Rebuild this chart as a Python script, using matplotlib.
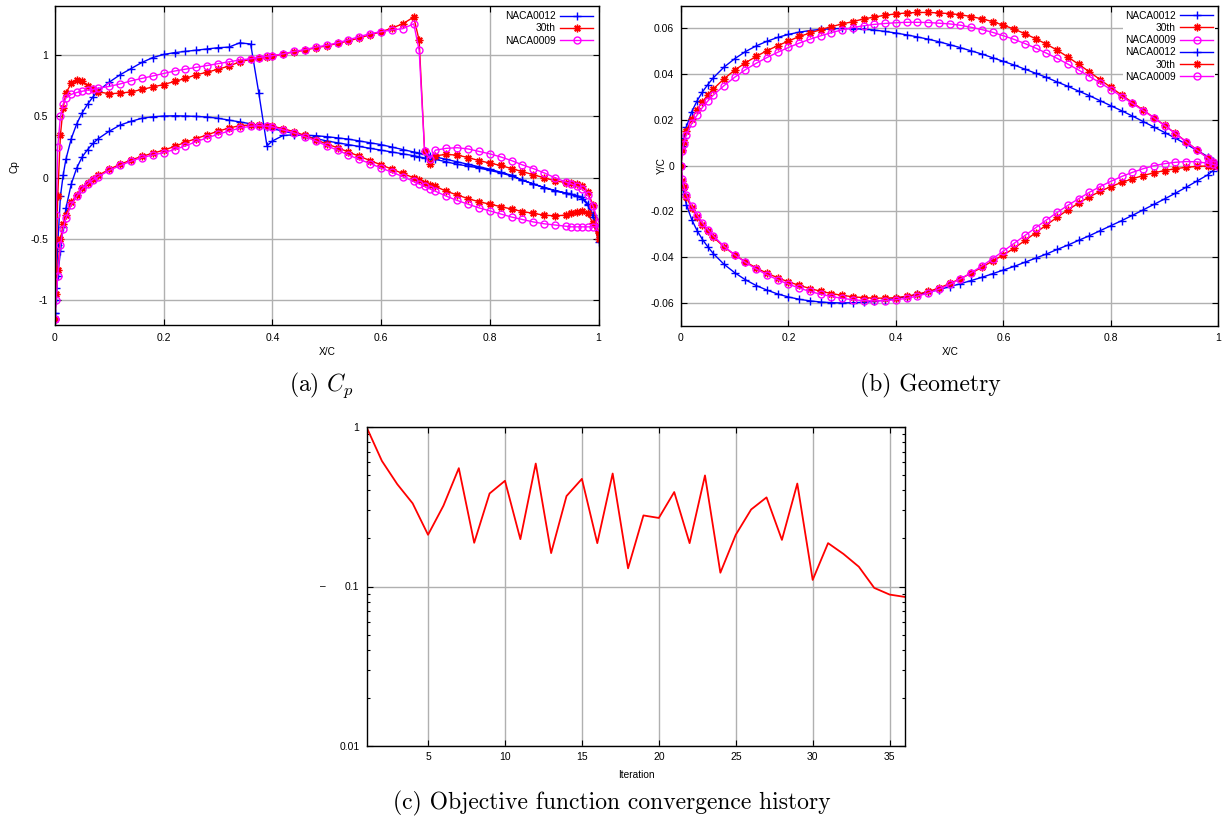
import matplotlib
matplotlib.use('Agg')
import matplotlib.pyplot as plt
import numpy as np
from matplotlib.ticker import FixedLocator, NullFormatter

plt.rcParams['font.family'] = ['Liberation Sans', 'DejaVu Sans']
plt.rcParams['axes.unicode_minus'] = False
plt.rcParams['mathtext.fontset'] = 'cm'

# ---------------- (a) Cp distributions ----------------
CP_X = [0, 0.002, 0.005, 0.01, 0.015, 0.02, 0.03, 0.04,
        0.05, 0.06, 0.07, 0.08, 0.1, 0.12, 0.14, 0.16,
        0.18, 0.2, 0.22, 0.24, 0.26, 0.28, 0.3, 0.32,
        0.34, 0.36, 0.375, 0.39, 0.4, 0.42, 0.44, 0.46,
        0.48, 0.5, 0.52, 0.54, 0.56, 0.58, 0.6, 0.62,
        0.64, 0.66, 0.67, 0.68, 0.69, 0.7, 0.72, 0.74,
        0.76, 0.78, 0.8, 0.82, 0.84, 0.86, 0.88, 0.9,
        0.92, 0.94, 0.95, 0.96, 0.97, 0.98, 0.99, 1.0]

CP_NACA0012_UPPER = [-1.1, -0.9, -0.55, -0.15, 0.02, 0.15, 0.32, 0.44,
                     0.53, 0.60, 0.66, 0.71, 0.78, 0.84, 0.89, 0.94,
                     0.98, 1.005, 1.02, 1.03, 1.04, 1.05, 1.06, 1.065,
                     1.10, 1.09, 0.69, 0.26, 0.30, 0.345, 0.35, 0.348,
                     0.343, 0.335, 0.325, 0.315, 0.30, 0.285, 0.27, 0.25,
                     0.23, 0.21, 0.20, 0.19, 0.18, 0.17, 0.15, 0.13,
                     0.11, 0.09, 0.07, 0.045, 0.02, -0.02, -0.05, -0.08,
                     -0.105, -0.125, -0.135, -0.145, -0.16, -0.21, -0.3, -0.5]
CP_NACA0012_LOWER = [-1.1, -1.0, -0.8, -0.6, -0.4, -0.25, -0.05, 0.08,
                     0.17, 0.23, 0.28, 0.32, 0.38, 0.43, 0.46, 0.485,
                     0.497, 0.503, 0.505, 0.503, 0.50, 0.495, 0.485, 0.47,
                     0.455, 0.44, 0.425, 0.41, 0.40, 0.38, 0.36, 0.34,
                     0.32, 0.30, 0.285, 0.27, 0.255, 0.24, 0.225, 0.21,
                     0.195, 0.18, 0.17, 0.16, 0.155, 0.15, 0.13, 0.11,
                     0.095, 0.08, 0.06, 0.04, 0.015, -0.02, -0.05, -0.08,
                     -0.105, -0.125, -0.135, -0.15, -0.17, -0.22, -0.32, -0.52]
CP_30TH_UPPER = [-1.15, -0.75, -0.15, 0.35, 0.57, 0.69, 0.77, 0.80,
                 0.79, 0.75, 0.72, 0.70, 0.685, 0.69, 0.70, 0.72,
                 0.74, 0.76, 0.785, 0.81, 0.84, 0.86, 0.885, 0.91,
                 0.945, 0.965, 0.975, 0.985, 0.99, 1.01, 1.025, 1.04,
                 1.06, 1.075, 1.095, 1.115, 1.14, 1.165, 1.19, 1.22,
                 1.255, 1.31, 1.12, 0.22, 0.115, 0.18, 0.19, 0.185,
                 0.165, 0.14, 0.12, 0.1, 0.075, 0.05, 0.025, 0.0,
                 -0.025, -0.04, -0.045, -0.05, -0.07, -0.12, -0.22, -0.45]
CP_30TH_LOWER = [-1.15, -0.95, -0.75, -0.5, -0.38, -0.3, -0.2, -0.14,
                 -0.08, -0.04, -0.01, 0.02, 0.07, 0.11, 0.145, 0.175,
                 0.2, 0.225, 0.255, 0.29, 0.32, 0.35, 0.38, 0.405,
                 0.425, 0.43, 0.43, 0.425, 0.42, 0.40, 0.375, 0.345,
                 0.31, 0.275, 0.245, 0.21, 0.175, 0.14, 0.105, 0.07,
                 0.035, 0.0, -0.02, -0.04, -0.055, -0.07, -0.11, -0.14,
                 -0.17, -0.195, -0.215, -0.235, -0.255, -0.275, -0.29, -0.305,
                 -0.31, -0.305, -0.29, -0.28, -0.27, -0.29, -0.37, -0.5]
CP_NACA0009_UPPER = [-1.15, -0.3, 0.25, 0.5, 0.6, 0.65, 0.68, 0.695,
                     0.705, 0.715, 0.72, 0.73, 0.745, 0.765, 0.79, 0.81,
                     0.83, 0.85, 0.87, 0.885, 0.9, 0.915, 0.93, 0.945,
                     0.96, 0.97, 0.98, 0.99, 0.995, 1.01, 1.03, 1.045,
                     1.065, 1.08, 1.1, 1.125, 1.15, 1.175, 1.19, 1.205,
                     1.215, 1.255, 1.04, 0.22, 0.155, 0.225, 0.24, 0.245,
                     0.235, 0.215, 0.195, 0.17, 0.14, 0.105, 0.075, 0.04,
                     0.0, -0.035, -0.05, -0.07, -0.09, -0.14, -0.23, -0.36]
CP_NACA0009_LOWER = [-1.15, -1.0, -0.8, -0.55, -0.42, -0.33, -0.22, -0.15,
                     -0.09, -0.05, -0.015, 0.01, 0.06, 0.1, 0.135, 0.165,
                     0.185, 0.205, 0.23, 0.26, 0.295, 0.325, 0.355, 0.38,
                     0.405, 0.42, 0.425, 0.42, 0.415, 0.39, 0.365, 0.335,
                     0.3, 0.26, 0.225, 0.185, 0.15, 0.115, 0.08, 0.045,
                     0.01, -0.03, -0.05, -0.07, -0.09, -0.11, -0.15, -0.185,
                     -0.215, -0.245, -0.27, -0.295, -0.32, -0.34, -0.36, -0.375,
                     -0.385, -0.395, -0.4, -0.4, -0.4, -0.4, -0.4, -0.4]

# ---------------- (b) Geometry ----------------
GEO_X = [0, 0.0025, 0.005, 0.01, 0.02, 0.03, 0.04, 0.05,
         0.06, 0.08, 0.1, 0.12, 0.14, 0.16, 0.18, 0.2,
         0.22, 0.24, 0.26, 0.28, 0.3, 0.32, 0.34, 0.36,
         0.38, 0.4, 0.42, 0.44, 0.46, 0.48, 0.5, 0.52,
         0.54, 0.56, 0.58, 0.6, 0.62, 0.64, 0.66, 0.68,
         0.7, 0.72, 0.74, 0.76, 0.78, 0.8, 0.82, 0.84,
         0.86, 0.88, 0.9, 0.92, 0.94, 0.96, 0.98, 0.99, 1.0]

GEO_NACA0012_UPPER = [0, 0.0087, 0.0122, 0.0170, 0.0236, 0.0284, 0.0323, 0.0355,
                      0.0384, 0.0431, 0.0468, 0.0499, 0.0524, 0.0544, 0.0561, 0.0574,
                      0.0584, 0.0591, 0.0596, 0.0599, 0.0600, 0.0599, 0.0597, 0.0593,
                      0.0587, 0.0580, 0.0572, 0.0563, 0.0553, 0.0542, 0.0529, 0.0516,
                      0.0502, 0.0488, 0.0472, 0.0456, 0.0440, 0.0422, 0.0404, 0.0386,
                      0.0366, 0.0347, 0.0326, 0.0306, 0.0284, 0.0262, 0.0240, 0.0217,
                      0.0193, 0.0169, 0.0145, 0.0120, 0.0094, 0.0067, 0.0040, 0.0021, 0.0]
GEO_NACA0012_LOWER = [0, -0.0087, -0.0122, -0.0170, -0.0236, -0.0284, -0.0323, -0.0355,
                      -0.0384, -0.0431, -0.0468, -0.0499, -0.0524, -0.0544, -0.0561, -0.0574,
                      -0.0584, -0.0591, -0.0596, -0.0599, -0.0600, -0.0599, -0.0597, -0.0593,
                      -0.0587, -0.0580, -0.0572, -0.0563, -0.0553, -0.0542, -0.0529, -0.0516,
                      -0.0502, -0.0488, -0.0472, -0.0456, -0.0440, -0.0422, -0.0404, -0.0386,
                      -0.0366, -0.0347, -0.0326, -0.0306, -0.0284, -0.0262, -0.0240, -0.0217,
                      -0.0193, -0.0169, -0.0145, -0.0120, -0.0094, -0.0067, -0.0040, -0.0021, 0.0]
GEO_30TH_UPPER = [0, 0.007, 0.0105, 0.015, 0.0205, 0.0245, 0.028, 0.031,
                  0.0335, 0.038, 0.0418, 0.045, 0.0478, 0.0503, 0.0525, 0.0545,
                  0.0565, 0.058, 0.0595, 0.0608, 0.062, 0.063, 0.0642, 0.065,
                  0.0658, 0.0664, 0.0668, 0.067, 0.067, 0.0668, 0.0665, 0.066,
                  0.0652, 0.0642, 0.063, 0.0614, 0.0597, 0.0577, 0.0555, 0.0531,
                  0.0505, 0.0475, 0.0443, 0.041, 0.0376, 0.0342, 0.0309, 0.0276,
                  0.0243, 0.021, 0.0176, 0.0141, 0.0105, 0.0069, 0.0034, 0.0017, 0]
GEO_30TH_LOWER = [0, -0.0065, -0.0095, -0.0135, -0.0187, -0.0225, -0.0258, -0.0287,
                  -0.0312, -0.0355, -0.039, -0.042, -0.0447, -0.047, -0.049, -0.0508,
                  -0.0523, -0.0537, -0.0549, -0.0559, -0.0567, -0.0573, -0.0577, -0.0579,
                  -0.0579, -0.0577, -0.0571, -0.0562, -0.055, -0.0535, -0.0515, -0.0494,
                  -0.047, -0.0444, -0.0416, -0.039, -0.036, -0.0327, -0.0293, -0.0259,
                  -0.0225, -0.0193, -0.0163, -0.0136, -0.0112, -0.0091, -0.0073, -0.0057,
                  -0.0043, -0.0031, -0.0021, -0.0013, -0.0007, -0.0003, -0.0001, 0.0, 0.0]
GEO_NACA0009_UPPER = [0, 0.0065, 0.0095, 0.0135, 0.0185, 0.0222, 0.0255, 0.0283,
                      0.0308, 0.035, 0.0387, 0.042, 0.0448, 0.0473, 0.0496, 0.0517,
                      0.0536, 0.0553, 0.0568, 0.0582, 0.0594, 0.0604, 0.0612, 0.0618,
                      0.0622, 0.0625, 0.0627, 0.0627, 0.0626, 0.0623, 0.062, 0.0614,
                      0.0605, 0.0595, 0.0583, 0.0568, 0.0552, 0.0534, 0.0514, 0.0492,
                      0.0469, 0.0444, 0.0418, 0.039, 0.0362, 0.0333, 0.0302, 0.0272,
                      0.0241, 0.0209, 0.0175, 0.014, 0.0104, 0.0068, 0.0033, 0.0016, 0]
GEO_NACA0009_LOWER = [0, -0.006, -0.0088, -0.0126, -0.0177, -0.0216, -0.025, -0.028,
                      -0.0306, -0.0352, -0.039, -0.0423, -0.0452, -0.0477, -0.0499, -0.0518,
                      -0.0535, -0.055, -0.0562, -0.0572, -0.058, -0.0586, -0.059, -0.0591,
                      -0.059, -0.0586, -0.058, -0.057, -0.0557, -0.054, -0.0519, -0.0495,
                      -0.0468, -0.0438, -0.0406, -0.0373, -0.0339, -0.0305, -0.0271, -0.0237,
                      -0.0204, -0.0173, -0.0144, -0.0116, -0.0091, -0.0068, -0.0047, -0.0029,
                      -0.0013, 0.0, 0.0009, 0.0015, 0.0018, 0.0017, 0.0011, 0.0006, 0]

# ---------------- (c) Convergence ----------------
ITERATION = list(range(1, 37))
OBJECTIVE = [1.0, 0.613, 0.438, 0.332, 0.211, 0.321, 0.552, 0.188, 0.383, 0.46,
             0.198, 0.59, 0.162, 0.369, 0.473, 0.187, 0.511, 0.13, 0.279, 0.269,
             0.391, 0.187, 0.497, 0.122, 0.211, 0.304, 0.362, 0.196, 0.442, 0.110,
             0.187, 0.160, 0.133, 0.098, 0.089, 0.086]

SERIES = ['NACA0012', '30th', 'NACA0009']
COLORS = ['#0000ff', '#ff0000', '#ff00ff']

CP_XTICKS = [0, 0.2, 0.4, 0.6, 0.8, 1]
CP_XTICKLABELS = ['0', '0.2', '0.4', '0.6', '0.8', '1']
CP_YTICKS = [-1, -0.5, 0, 0.5, 1]
CP_YTICKLABELS = ['-1', '-0.5', '0', '0.5', '1']
GEO_YTICKS = [-0.06, -0.04, -0.02, 0, 0.02, 0.04, 0.06]
GEO_YTICKLABELS = ['-0.06', '-0.04', '-0.02', '0', '0.02', '0.04', '0.06']
IT_XTICKS = [5, 10, 15, 20, 25, 30, 35]
IT_XTICKLABELS = ['5', '10', '15', '20', '25', '30', '35']
IT_YTICKS = [0.01, 0.1, 1]
IT_YTICKLABELS = ['0.01', '0.1', '1']

MARKERS = [dict(marker='+', ms=5.5, mew=1.0),
           dict(marker=(8, 2, 0), ms=5.5, mew=1.0),
           dict(marker='o', ms=5.0, mew=1.0, mfc='none')]

W, H = 1223, 823
fig = plt.figure(figsize=(W / 100, H / 100), dpi=100)


def ax_at(l, t, r, b):
    return fig.add_axes([l / W, 1 - b / H, (r - l) / W, (b - t) / H])


def style(ax):
    ax.tick_params(which='both', direction='in', top=True, right=True,
                   labelsize=7.5, width=0.8, color='black')
    ax.tick_params(which='major', length=4.5)
    ax.grid(True, which='major', color='#b0b0b0', lw=1.0)
    ax.set_axisbelow(True)
    for s in ax.spines.values():
        s.set_linewidth(1.0)


# ---- (a)
ax1 = ax_at(55, 6, 598.5, 325)
cp_sets = [(CP_NACA0012_UPPER, CP_NACA0012_LOWER),
           (CP_30TH_UPPER, CP_30TH_LOWER),
           (CP_NACA0009_UPPER, CP_NACA0009_LOWER)]
cx = np.array(CP_X)
for (up, lo), name, col, mk in zip(cp_sets, SERIES, COLORS, MARKERS):
    xs = np.concatenate([cx[::-1], cx])
    ys = np.concatenate([np.array(up)[::-1], np.array(lo)])
    ax1.plot(xs, ys, color=col, lw=1.0, label=name, mec=col, **mk)
ax1.set_xlim(0, 1)
ax1.set_ylim(-1.2, 1.4)
ax1.set_xticks(CP_XTICKS, CP_XTICKLABELS)
ax1.set_yticks(CP_YTICKS, CP_YTICKLABELS)
style(ax1)
ax1.tick_params(axis='x', pad=5.5)
ax1.tick_params(axis='y', pad=5)
ax1.legend(loc='upper right', markerfirst=False, frameon=False, fontsize=7.3,
           handlelength=3.3, handletextpad=0.4, labelspacing=0.22,
           borderaxespad=0.3, borderpad=0.2)

# ---- (b)
ax2 = ax_at(681, 5.6, 1218.5, 325.8)
gx = np.array(GEO_X)
for up, name, col, mk in zip([GEO_NACA0012_UPPER, GEO_30TH_UPPER, GEO_NACA0009_UPPER],
                             SERIES, COLORS, MARKERS):
    ax2.plot(gx, up, color=col, lw=1.0, label=name, mec=col, **mk)
for lo, name, col, mk in zip([GEO_NACA0012_LOWER, GEO_30TH_LOWER, GEO_NACA0009_LOWER],
                             SERIES, COLORS, MARKERS):
    ax2.plot(gx, lo, color=col, lw=1.0, label=name, mec=col, **mk)
ax2.set_xlim(0, 1)
ax2.set_ylim(-0.07, 0.07)
ax2.set_xticks(CP_XTICKS, CP_XTICKLABELS)
ax2.set_yticks(GEO_YTICKS, GEO_YTICKLABELS)
style(ax2)
ax2.tick_params(axis='x', pad=5.5)
ax2.tick_params(axis='y', pad=5)
leg2 = ax2.legend(loc='upper right', markerfirst=False, frameon=True, fontsize=7.3,
                  handlelength=3.3, handletextpad=0.4, labelspacing=0.22,
                  borderaxespad=0.3, borderpad=0.2, fancybox=False,
                  facecolor='white', edgecolor='none', framealpha=1.0)

# ---- (c)
ax3 = ax_at(366.5, 427, 905, 746)
ax3.plot(ITERATION, OBJECTIVE, color='#ff0000', lw=1.3)
ax3.set_yscale('log')
ax3.set_xlim(1, 36)
ax3.set_ylim(0.01, 1)
ax3.set_xticks(IT_XTICKS, IT_XTICKLABELS)
ax3.set_yticks(IT_YTICKS, IT_YTICKLABELS)
ax3.yaxis.set_minor_locator(FixedLocator(
    [m * d for d in (0.01, 0.1) for m in range(2, 10)]))
ax3.yaxis.set_minor_formatter(NullFormatter())
ax3.xaxis.set_minor_locator(FixedLocator([]))
style(ax3)
ax3.tick_params(which='minor', length=2.5)
ax3.tick_params(axis='x', pad=4)
ax3.tick_params(axis='y', pad=5)

# ---- axis labels
lab = dict(fontsize=7.3, ha='center', va='center')
fig.text(14 / W, 1 - 167 / H, 'Cp', rotation=90, **lab)
fig.text(327 / W, 1 - 352 / H, 'X/C', **lab)
fig.text(662 / W, 1 - 166 / H, 'Y/C', rotation=90, **lab)
fig.text(950 / W, 1 - 352 / H, 'X/C', **lab)
fig.text(636 / W, 1 - 775 / H, 'Iteration', **lab)
fig.text(323 / W, 1 - 586 / H, '\u2013', **lab)

# ---- captions
cap = dict(family='cmr10', fontsize=17, ha='center', va='center')
fig.text(322 / W, 1 - 385 / H, r'(a) $C_p$', **cap)
fig.text(930 / W, 1 - 385 / H, '(b) Geometry', **cap)
fig.text(612 / W, 1 - 803 / H, '(c) Objective function convergence history', **cap)

fig.savefig('out.png', dpi=100)
